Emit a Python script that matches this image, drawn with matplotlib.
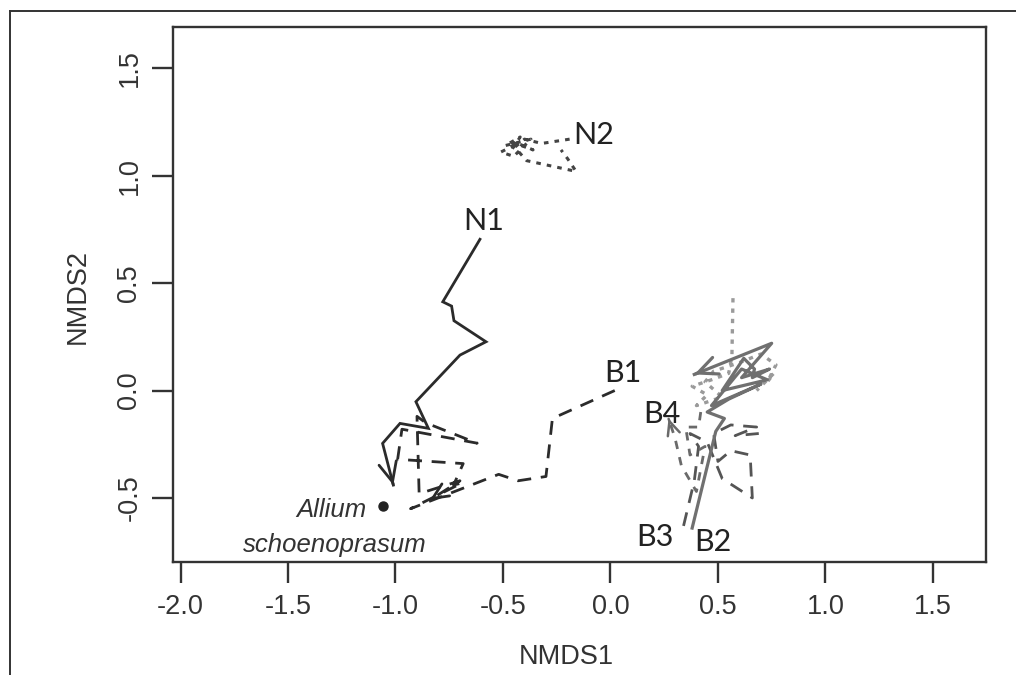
import numpy as np
import matplotlib
matplotlib.use("Agg")
import matplotlib.pyplot as plt
from matplotlib.lines import Line2D

# trajectories (start at label, end at arrow)
n1_x = [-0.607, -0.780, -0.739, -0.728, -0.579, -0.700, -0.905, -0.847, -0.979, -1.060, -1.010]
n1_y = [0.704, 0.413, 0.393, 0.325, 0.227, 0.165, -0.052, -0.176, -0.153, -0.246, -0.440]

n2_x = [-0.19, -0.32, -0.40, -0.46, -0.42, -0.49, -0.37, -0.45, -0.51, -0.43, -0.36, -0.47, -0.39, -0.16, -0.20, -0.23]
n2_y = [1.17, 1.15, 1.17, 1.12, 1.18, 1.14, 1.17, 1.09, 1.11, 1.15, 1.12, 1.16, 1.07, 1.02, 1.08, 1.12]

b1_x = [0.02, -0.27, -0.30, -0.43, -0.52, -0.93, -0.69, -0.73, -0.685, -0.99, -0.97, -0.62, -0.86, -0.90, -0.89, -0.70, -0.84]
b1_y = [0.00, -0.13, -0.40, -0.42, -0.39, -0.55, -0.43, -0.44, -0.34, -0.32, -0.18, -0.245, -0.15, -0.12, -0.48, -0.42, -0.51]

b2_x = [0.38, 0.49, 0.53, 0.45, 0.55, 0.70, 0.47, 0.61, 0.73, 0.52, 0.62, 0.67, 0.66, 0.74, 0.61, 0.75, 0.39]
b2_y = [-0.64, -0.19, -0.13, -0.10, -0.04, 0.03, -0.07, 0.10, 0.05, 0.00, 0.15, 0.10, 0.06, 0.10, 0.06, 0.22, 0.075]

b3_x = [0.34, 0.39, 0.41, 0.37, 0.45, 0.52, 0.66, 0.65, 0.56, 0.50, 0.48, 0.56, 0.68, 0.58, 0.69]
b3_y = [-0.63, -0.42, -0.26, -0.20, -0.24, -0.41, -0.50, -0.30, -0.28, -0.33, -0.20, -0.16, -0.17, -0.21, -0.20]

b4_x = [0.42, 0.41, 0.35, 0.37, 0.44, 0.40, 0.33, 0.30, 0.27]
b4_y = [-0.10, -0.17, -0.17, -0.30, -0.26, -0.47, -0.35, -0.22, -0.13]

bdot_x = [0.57, 0.565, 0.55, 0.47, 0.38, 0.45, 0.40, 0.52, 0.44, 0.48, 0.60, 0.70, 0.77, 0.73, 0.76, 0.68]
bdot_y = [0.43, 0.16, 0.08, 0.05, 0.02, -0.02, -0.07, -0.03, 0.04, 0.09, 0.13, 0.17, 0.12, 0.04, 0.08, 0.00]

allium = (-1.057, -0.538)

labels = ["N1", "N2", "B1", "B2", "B3", "B4"]
label_x = [-0.588, -0.08, 0.06, 0.478, 0.207, 0.238]
label_y = [0.790, 1.19, 0.08, -0.704, -0.681, -0.109]

xticks = [-2.0, -1.5, -1.0, -0.5, 0.0, 0.5, 1.0, 1.5]
yticks = [-0.5, 0.0, 0.5, 1.0, 1.5]

W, H = 1016, 675
fig = plt.figure(figsize=(W / 100, H / 100), dpi=100)
ax = fig.add_axes([173 / W, 1 - 562 / H, (986 - 173) / W, (562 - 27) / H])
ax.set_xlim(-2.035, 1.747)
ax.set_ylim(-0.798, 1.692)

for s in ax.spines.values():
    s.set_linewidth(1.7)
    s.set_color("#333333")

tickfont = {"family": "Liberation Sans", "size": 19.5, "color": "#333333"}
ax.set_xticks(xticks)
ax.set_xticklabels([f"{t:.1f}" for t in xticks], fontdict=tickfont)
ax.set_yticks(yticks)
ax.set_yticklabels([f"{t:.1f}" for t in yticks], fontdict=tickfont, rotation=90, va="center")
ax.tick_params(direction="out", length=15, width=1.7, color="#333333")
ax.tick_params(axis="x", pad=8)
ax.tick_params(axis="y", pad=7)


def arrowhead(xs, ys, color, lw, scale=20):
    x0, y0 = xs[-2], ys[-2]
    x1, y1 = xs[-1], ys[-1]
    ax.annotate("", xy=(x1, y1), xytext=(x1 - 0.02 * (x1 - x0), y1 - 0.02 * (y1 - y0)),
                arrowprops=dict(arrowstyle="->,head_length=0.7,head_width=0.32",
                                color=color, lw=lw, shrinkA=0, shrinkB=0,
                                mutation_scale=scale),
                annotation_clip=False)


ax.plot(n1_x, n1_y, color="#2b2b2b", lw=2.0, solid_joinstyle="miter")
arrowhead(n1_x, n1_y, "#2b2b2b", 2.0)

ax.plot(b1_x, b1_y, color="#2b2b2b", lw=2.0, linestyle=(0, (5, 3.5)))
arrowhead(b1_x, b1_y, "#2b2b2b", 2.0, 16)

ax.plot(n2_x, n2_y, color="#444444", lw=2.2, linestyle=(0, (1.5, 2.0)))

ax.plot(bdot_x, bdot_y, color="#9a9a9a", lw=2.4, linestyle=(0, (1.3, 1.8)))
ax.plot(b3_x, b3_y, color="#555555", lw=2.0, linestyle=(0, (5, 3.5)))
ax.plot(b4_x, b4_y, color="#6a6a6a", lw=2.0, linestyle=(0, (3, 3)))
arrowhead(b4_x, b4_y, "#6a6a6a", 1.8, 14)
ax.plot(b2_x, b2_y, color="#707070", lw=2.3)
arrowhead(b2_x, b2_y, "#707070", 2.3)

ax.plot([allium[0]], [allium[1]], "o", color="#222222", ms=6.5)
ax.text(-1.134, -0.556, "Allium", ha="right", va="center", style="italic",
        family="Liberation Sans", size=18.5, color="#333333")
ax.text(-1.281, -0.719, "schoenoprasum", ha="center", va="center", style="italic",
        family="Liberation Sans", size=18.5, color="#333333")

for lab, lx, ly in zip(labels, label_x, label_y):
    ax.text(lx, ly, lab, ha="center", va="center", family="Lato", size=22, color="#222222")

fig.text(566 / W, 1 - 657 / H, "NMDS1", ha="center", va="center",
         family="Liberation Sans", size=19.5, color="#333333")
fig.text(78 / W, 1 - 297 / H, "NMDS2", ha="center", va="center", rotation=90,
         family="Liberation Sans", size=19.5, color="#333333")

# cropped outer frame: top and left edges only
fig.add_artist(Line2D([10 / W, 1.0], [1 - 11 / H, 1 - 11 / H], transform=fig.transFigure,
                      color="#333333", lw=1.4))
fig.add_artist(Line2D([10 / W, 10 / W], [1 - 11 / H, 0.0], transform=fig.transFigure,
                      color="#333333", lw=1.4))

fig.savefig("out.png", dpi=100)
